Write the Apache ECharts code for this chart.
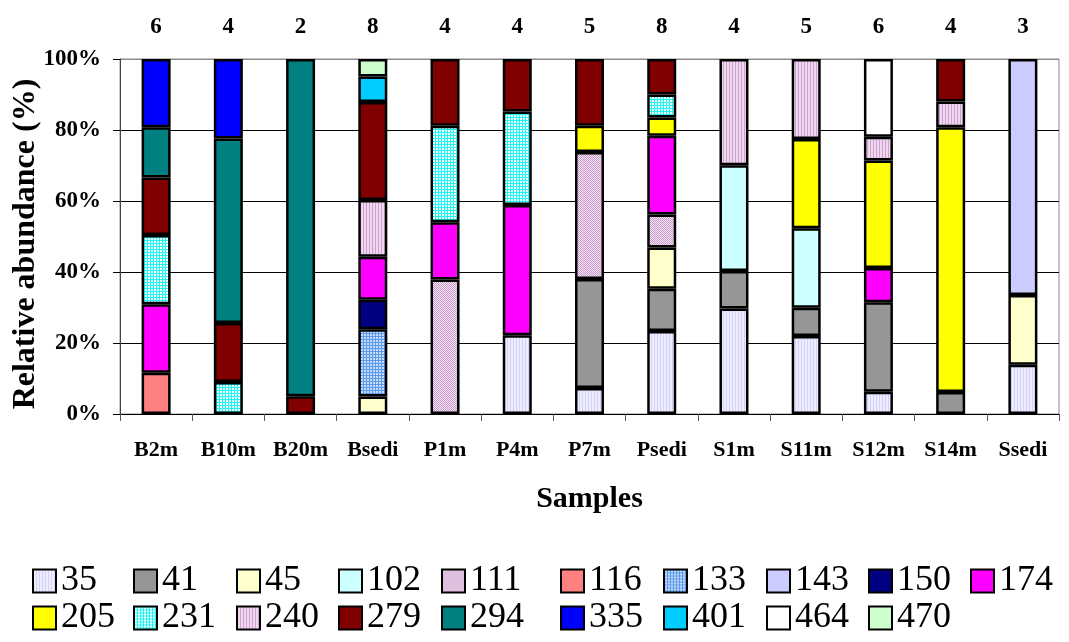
<!DOCTYPE html>
<html>
<head>
<meta charset="utf-8">
<script src="https://cdn.jsdelivr.net/npm/echarts@6/dist/echarts.min.js"></script>
<style>
  html, body { margin: 0; padding: 0; background: #fff; }
  #chart { width: 1069px; height: 642px; }
</style>
</head>
<body>
<div id="chart"></div>
<script>
// samples (x axis) and number of OTUs shown above each bar
const samples = ['B2m', 'B10m', 'B20m', 'Bsedi', 'P1m', 'P4m', 'P7m', 'Psedi', 'S1m', 'S11m', 'S12m', 'S14m', 'Ssedi'];
const otuCounts = ['6', '4', '2', '8', '4', '4', '5', '8', '4', '5', '6', '4', '3'];
const yTicks = [0, 20, 40, 60, 80, 100];

// relative abundance (%) of each band, one value per sample (null = absent)
const otu35  = [null, null, null, null, null, 22.2, 7.3, 23.4, 29.7, 22.0, 6.3, null, 13.9];
const otu41  = [null, null, null, null, null, null, 30.7, 11.9, 10.6, 7.9, 25.2, 6.2, null];
const otu45  = [null, null, null, 4.9, null, null, null, 11.6, null, null, null, null, 19.6];
const otu102 = [null, null, null, null, null, null, null, null, 29.8, 22.4, null, null, null];
const otu111 = [null, null, null, null, 37.9, null, 35.8, 9.3, null, null, null, null, null];
const otu116 = [11.6, null, null, null, null, null, null, null, null, null, null, null, null];
const otu133 = [null, null, null, 19.0, null, null, null, null, null, null, null, null, null];
const otu143 = [null, null, null, null, null, null, null, null, null, null, null, null, 66.5];
const otu150 = [null, null, null, 8.3, null, null, null, null, null, null, null, null, null];
const otu174 = [19.3, null, null, 12.1, 16.1, 36.7, null, 22.2, null, null, 9.6, null, null];
const otu205 = [null, null, null, null, null, null, 7.4, 5.1, null, 25.2, 30.3, 74.6, null];
const otu231 = [19.5, 9.0, null, null, 27.2, 26.3, null, 6.5, null, null, null, null, null];
const otu240 = [null, null, null, 16.0, null, null, null, null, 29.9, 22.5, 6.7, 7.2, null];
const otu279 = [16.2, 16.6, 5.0, 27.6, 18.8, 14.8, 18.8, 10.0, null, null, null, 12.0, null];
const otu294 = [14.2, 52.0, 95.0, null, null, null, null, null, null, null, null, null, null];
const otu335 = [19.2, 22.4, null, null, null, null, null, null, null, null, null, null, null];
const otu401 = [null, null, null, 7.2, null, null, null, null, null, null, null, null, null];
const otu464 = [null, null, null, null, null, null, null, null, null, null, 21.9, null, null];
const otu470 = [null, null, null, 4.9, null, null, null, null, null, null, null, null, null];

// small repeating fills imitating the old spreadsheet hatch patterns
function makePattern(w, h, draw) {
  const c = document.createElement('canvas');
  c.width = w; c.height = h;
  draw(c.getContext('2d'));
  return { image: c, repeat: 'repeat' };
}
const stripes35 = makePattern(3, 1, function (ctx) {
  ctx.fillStyle = '#EDEDFF'; ctx.fillRect(0, 0, 3, 1);
  ctx.fillStyle = '#D2D2F6'; ctx.fillRect(0, 0, 1, 1);
});
const dots111 = makePattern(2, 2, function (ctx) {
  ctx.fillStyle = '#F4E6F4'; ctx.fillRect(0, 0, 2, 2);
  ctx.fillStyle = '#C898C8'; ctx.fillRect(0, 0, 1, 1); ctx.fillRect(1, 1, 1, 1);
});
const grid133 = makePattern(3, 3, function (ctx) {
  ctx.fillStyle = '#C4DCFF'; ctx.fillRect(0, 0, 3, 3);
  ctx.fillStyle = '#5C9AE8'; ctx.fillRect(0, 0, 3, 1); ctx.fillRect(0, 0, 1, 3);
});
const grid231 = makePattern(3, 3, function (ctx) {
  ctx.fillStyle = '#F0FFFF'; ctx.fillRect(0, 0, 3, 3);
  ctx.fillStyle = '#22F4F4'; ctx.fillRect(0, 0, 3, 1); ctx.fillRect(0, 0, 1, 3);
});
const stripes240 = makePattern(3, 1, function (ctx) {
  ctx.fillStyle = '#EFD8EF'; ctx.fillRect(0, 0, 3, 1);
  ctx.fillStyle = '#CFA2CF'; ctx.fillRect(0, 0, 1, 1);
});

// stacking order bottom -> top
const bands = [
  ['35', otu35, stripes35],
  ['41', otu41, '#969696'],
  ['45', otu45, '#FFFFCC'],
  ['102', otu102, '#CCFFFF'],
  ['111', otu111, dots111],
  ['116', otu116, '#FF8080'],
  ['133', otu133, grid133],
  ['143', otu143, '#CCCCFF'],
  ['150', otu150, '#000080'],
  ['174', otu174, '#FF00FF'],
  ['205', otu205, '#FFFF00'],
  ['231', otu231, grid231],
  ['240', otu240, stripes240],
  ['279', otu279, '#800000'],
  ['294', otu294, '#008080'],
  ['335', otu335, '#0000FF'],
  ['401', otu401, '#00CCFF'],
  ['464', otu464, '#FFFFFF'],
  ['470', otu470, '#CCFFCC']
];

const serif = 'Liberation Serif, Times New Roman, serif';

const series = bands.map(function (b) {
  return {
    name: b[0],
    type: 'bar',
    stack: 'total',
    barWidth: 29,
    data: b[1],
    itemStyle: { color: b[2], borderColor: '#000', borderWidth: 2.5 },
    emphasis: { disabled: true }
  };
});

// legend laid out as a 10-column table, two rows
const legendCols = [27, 128, 231, 333, 436, 555, 658, 761, 863, 965];
const legendRows = [558, 595];
const legends = bands.map(function (b, i) {
  return {
    data: [b[0]],
    left: legendCols[i % 10],
    top: legendRows[Math.floor(i / 10)],
    icon: 'rect',
    itemWidth: 23,
    itemHeight: 23,
    selectedMode: false,
    textStyle: { fontFamily: serif, fontSize: 36, color: '#000' }
  };
});

const chart = echarts.init(document.getElementById('chart'));
chart.setOption({
  animation: false,
  backgroundColor: '#fff',
  grid: {
    left: 120, right: 10, top: 59, bottom: 228,
    outerBoundsMode: 'none',
    show: true, borderColor: '#8c8c8c', borderWidth: 1, backgroundColor: 'transparent'
  },
  legend: legends,
  xAxis: [
    {
      type: 'category',
      data: samples,
      position: 'bottom',
      name: 'Samples',
      nameLocation: 'middle',
      nameGap: 70,
      nameTextStyle: { fontFamily: serif, fontSize: 30, fontWeight: 'bold', color: '#000' },
      axisLine: { lineStyle: { color: '#000', width: 1 } },
      axisTick: { show: true, length: 7, lineStyle: { color: '#555' } },
      axisLabel: { fontFamily: serif, fontSize: 22, fontWeight: 'bold', color: '#000', margin: 25, interval: 0 }
    },
    {
      type: 'category',
      data: otuCounts,
      position: 'top',
      axisLine: { show: false },
      axisTick: { show: false },
      axisLabel: { fontFamily: serif, fontSize: 23, fontWeight: 'bold', color: '#000', margin: 20, interval: 0 }
    }
  ],
  yAxis: {
    type: 'value',
    min: yTicks[0],
    max: yTicks[yTicks.length - 1],
    interval: 20,
    name: 'Relative abundance (%)',
    nameLocation: 'middle',
    nameGap: 78,
    nameMoveOverlap: false,
    nameTextStyle: { fontFamily: serif, fontSize: 32, fontWeight: 'bold', color: '#000', padding: [0, 15, 0, 0] },
    axisLine: { show: true, lineStyle: { color: '#444', width: 1 } },
    axisTick: { show: true, length: 7, lineStyle: { color: '#000' } },
    axisLabel: { fontFamily: serif, fontSize: 23, fontWeight: 'bold', color: '#000', margin: 19, formatter: '{value}%' },
    splitLine: { show: true, lineStyle: { color: ['#000', '#000', '#000', '#000', '#000', '#8c8c8c'], width: 1 } }
  },
  series: series
});
</script>
</body>
</html>
